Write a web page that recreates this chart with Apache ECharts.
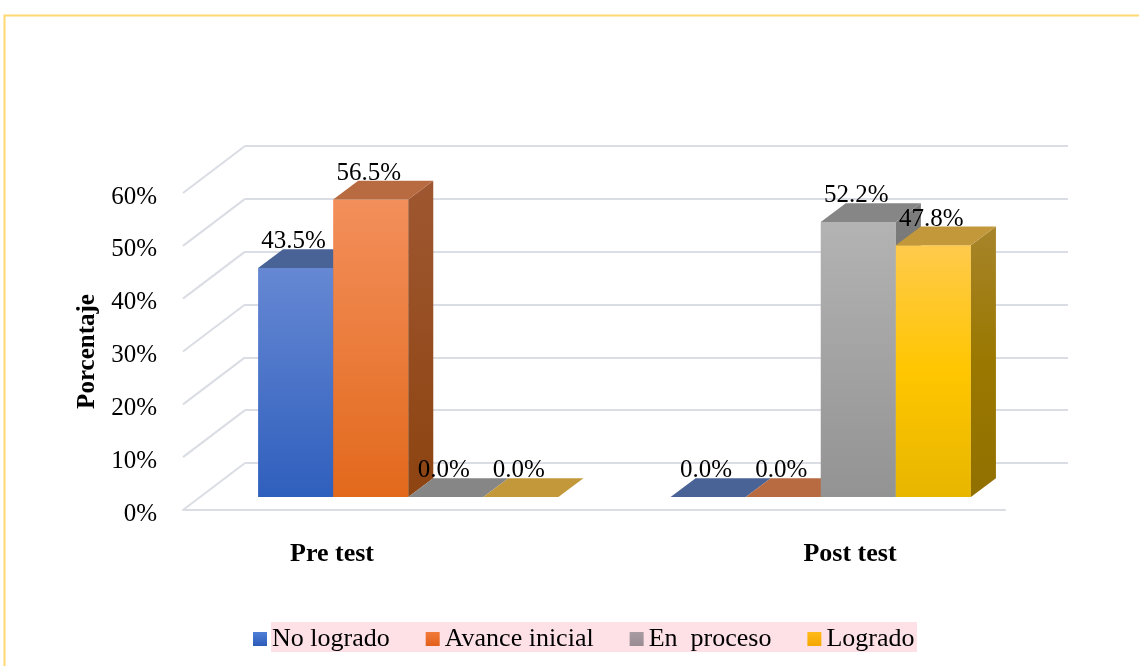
<!DOCTYPE html>
<html>
<head>
<meta charset="utf-8">
<script src="https://cdn.jsdelivr.net/npm/echarts@6/dist/echarts.min.js"></script>
<style>
html,body{margin:0;padding:0;background:#fff;}
#chart{width:1139px;height:666px;}
</style>
</head>
<body>
<div id="chart"></div>
<script>
// ---- data ----
const categories = ['Pre test', 'Post test'];
const seriesNames = ['No logrado', 'Avance inicial', 'En  proceso', 'Logrado'];
const noLogrado = [43.5, 0.0];
const avanceInicial = [56.5, 0.0];
const enProceso = [0.0, 52.2];
const logrado = [0.0, 47.8];
const yTicks = [0, 10, 20, 30, 40, 50, 60];

// ---- styles ----
const FONT = 'Liberation Serif, Times New Roman, serif';
const GRID_COLOR = '#dadde4';
const DEPTH_X = 62, DEPTH_Y = 47;   // floor depth offset (front -> back wall)
const BAR_RATIO = 0.182;             // bar width / category band

function grad(stops) {
  return { type: 'linear', x: 0, y: 0, x2: 0, y2: 1,
    colorStops: stops.map((c, i) => ({ offset: i / (stops.length - 1), color: c })) };
}
const palettes = [
  { front: grad(['#6688d3', '#2f5fbd']), side: grad(['#2f4f8f', '#24407a']), top: '#4a6397', legend: grad(['#4f7fd6', '#2c5cb8']) },
  { front: grad(['#f38f5b', '#e2691c']), side: grad(['#9f5731', '#8d4411']), top: '#b86a40', legend: grad(['#f27a3a', '#e2601a']) },
  { front: grad(['#b3b3b3', '#939393']), side: grad(['#7c7c7c', '#6a6a6a']), top: '#868686', legend: grad(['#a99ca2', '#988b92']) },
  { front: grad(['#ffca4c', '#ffc600', '#e8b600']), side: grad(['#a7842a', '#9a7800', '#917000']), top: '#c3983b', legend: grad(['#ffba1a', '#f5a700']) }
];
const seriesValues = [noLogrado, avanceInicial, enProceso, logrado];

function makeBarSeries(idx) {
  const pal = palettes[idx];
  return {
    name: seriesNames[idx],
    type: 'custom',
    xAxisIndex: 2, yAxisIndex: 2,
    itemStyle: { color: pal.legend },
    encode: { x: 0, y: 1 },
    data: seriesValues[idx].map((v, i) => [i, v]),
    renderItem: function (params, api) {
      const cat = api.value(0), v = api.value(1);
      const base = api.coord([cat, 0]);
      const top = api.coord([cat, v]);
      const band = api.size([1, 0])[0];
      const bw = band * BAR_RATIO;
      const dx = bw / 3, dy = bw / 4;
      const x0 = base[0] - 2 * bw + idx * bw, x1 = x0 + bw;
      const yb = base[1], yt = top[1];
      const children = [];
      if (v > 0) {
        children.push({ type: 'rect', shape: { x: x0, y: yt, width: bw, height: yb - yt }, style: { fill: pal.front } });
        children.push({ type: 'polygon', shape: { points: [[x1, yb], [x1, yt], [x1 + dx, yt - dy], [x1 + dx, yb - dy]] }, style: { fill: pal.side } });
      }
      children.push({ type: 'polygon', shape: { points: [[x0, yt], [x1, yt], [x1 + dx, yt - dy], [x0 + dx, yt - dy]] }, style: { fill: pal.top } });
      children.push({ type: 'text', z2: 10, style: { x: (x0 + x1) / 2 - 2, y: yt - dy + 5, text: v.toFixed(1) + '%',
        align: 'center', verticalAlign: 'bottom', font: '25px ' + FONT, fill: '#000' } });
      return { type: 'group', children: children };
    }
  };
}

const chart = echarts.init(document.getElementById('chart'), null, { renderer: 'canvas' });
const option = {
  animation: false,
  backgroundColor: '#fff',
  graphic: [
    { type: 'polyline', z: 0, shape: { points: [[4.5, 666], [4.5, 15.5], [1139, 15.5]] }, style: { stroke: '#ffd870', lineWidth: 2, fill: null } },
    { type: 'rect', z: 0, shape: { x: 271, y: 622, width: 646, height: 30 }, style: { fill: '#fde1e7' } }
  ],
  grid: [
    { left: 183, right: 134, top: 193, bottom: 156 },   // front edge of floor
    { left: 245, right: 71, top: 146, bottom: 203 },    // back wall
    { left: 202, right: 112, top: 181, bottom: 169 },   // bars
    { left: 73, right: 30, top: 193, bottom: 156 }      // category labels
  ],
  xAxis: [
    { gridIndex: 0, type: 'value', min: 0, max: 1, axisLine: { show: true, lineStyle: { color: GRID_COLOR, width: 2 } },
      axisTick: { show: false }, axisLabel: { show: false }, splitLine: { show: false } },
    { gridIndex: 1, type: 'value', min: 0, max: 1, show: false },
    { gridIndex: 2, type: 'category', data: categories, show: false },
    { gridIndex: 3, type: 'category', data: categories, axisLine: { show: false }, axisTick: { show: false },
      axisLabel: { margin: 31, fontFamily: FONT, fontWeight: 'bold', fontSize: 26, color: '#000' } }
  ],
  yAxis: [
    { gridIndex: 0, type: 'value', min: 0, max: 60, interval: 10,
      axisLine: { show: false }, axisTick: { show: false }, splitLine: { show: false },
      axisLabel: { formatter: v => '{a|' + v + '%}', margin: 26,
        rich: { a: { fontFamily: FONT, fontSize: 25, color: '#000', padding: [8, 0, 0, 0] } } },
      name: 'Porcentaje', nameLocation: 'middle', nameRotate: 90, nameGap: 76,
      nameTextStyle: { fontFamily: FONT, fontWeight: 'bold', fontSize: 25, color: '#000' } },
    { gridIndex: 1, type: 'value', min: 0, max: 60, interval: 10,
      axisLine: { show: false }, axisTick: { show: false }, axisLabel: { show: false },
      splitLine: { show: true, lineStyle: { color: GRID_COLOR, width: 2 } } },
    { gridIndex: 2, type: 'value', min: 0, max: 60, show: false },
    { gridIndex: 3, type: 'value', min: 0, max: 60, show: false }
  ],
  legend: {
    data: seriesNames.map((n, i) => ({ name: n, itemStyle: { color: palettes[i].legend } })),
    left: 253, top: 626, padding: 0, icon: 'rect', itemWidth: 14, itemHeight: 14, itemGap: 36,
    textStyle: { fontFamily: FONT, fontSize: 26, color: '#000' },
    selectedMode: false
  },
  series: [
    {
      type: 'custom', xAxisIndex: 0, yAxisIndex: 0, silent: true,
      data: yTicks.map(v => [0, v]),
      renderItem: function (params, api) {
        const p = api.coord([0, api.value(1)]);
        return { type: 'line', shape: { x1: p[0], y1: p[1], x2: p[0] + DEPTH_X, y2: p[1] - DEPTH_Y },
          style: { stroke: GRID_COLOR, lineWidth: 2 } };
      }
    },
    makeBarSeries(0), makeBarSeries(1), makeBarSeries(2), makeBarSeries(3)
  ]
};
chart.setOption(option);
</script>
</body>
</html>
